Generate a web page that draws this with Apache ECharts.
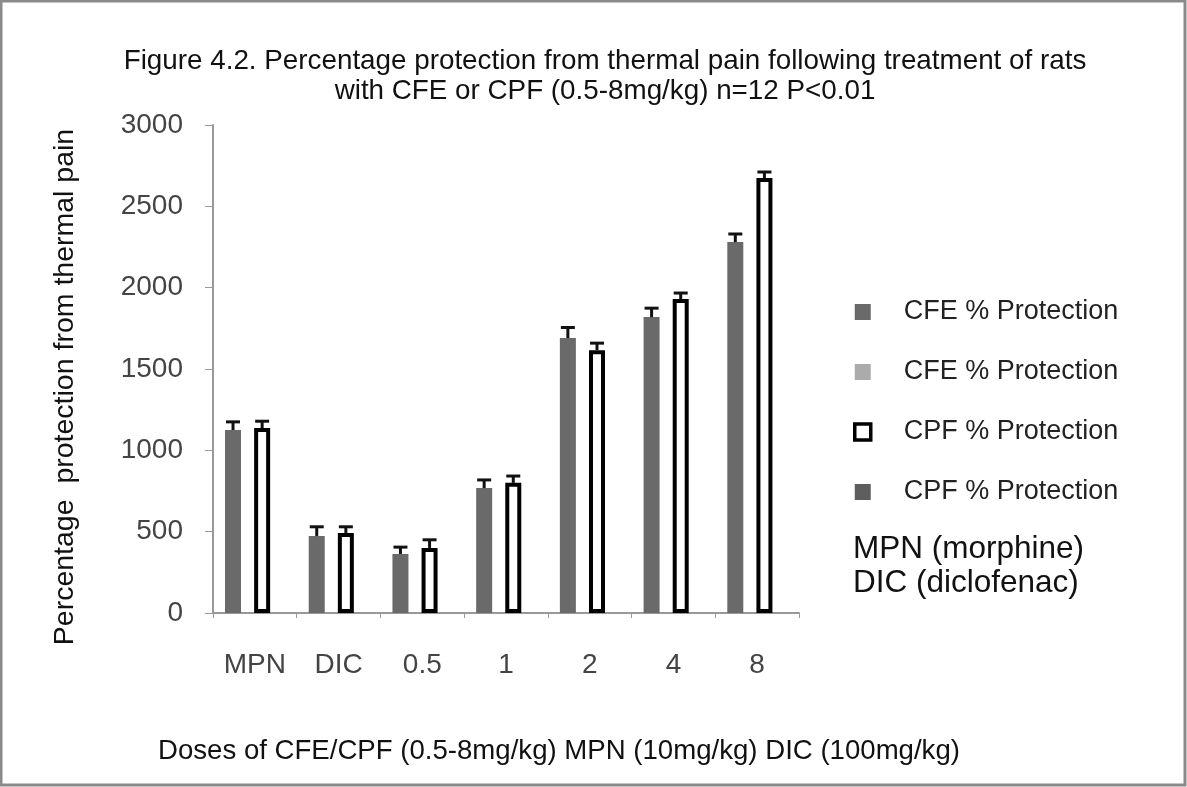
<!DOCTYPE html>
<html>
<head>
<meta charset="utf-8">
<script src="https://cdn.jsdelivr.net/npm/echarts@6/dist/echarts.min.js"></script>
<style>
html,body{margin:0;padding:0;background:#fff;}
#chart{width:1187px;height:787px;}
</style>
</head>
<body>
<div id="chart"></div>
<script>
// ---- data ----
var categories = ['MPN', 'DIC', '0.5', '1', '2', '4', '8'];
var cfeMean = [1125, 473, 363, 768, 1690, 1819, 2280];
var cfeErr  = [50, 57, 42, 50, 65, 55, 50];
var cpfMean = [1137, 492, 400, 800, 1616, 1930, 2674];
var cpfErr  = [42, 38, 50, 42, 43, 37, 37];
var yTicks = [0, 500, 1000, 1500, 2000, 2500, 3000];
var legendNames = ['CFE % Protection', 'CFE % Protection ', 'CPF % Protection', 'CPF % Protection '];

var BAR_W = 16, BAR_GAP = -0.09;
var pitch = BAR_W * (1 + BAR_GAP);
var offCFE = -1.5 * pitch, offCPF = 0.5 * pitch;

function errData(mean, err) {
  return mean.map(function (m, i) { return [i, m, err[i]]; });
}
function errRender(offset) {
  return function (params, api) {
    var i = api.value(0), m = api.value(1), e = api.value(2);
    var p0 = api.coord([i, m]);
    var p1 = api.coord([i, m + e]);
    var x = p0[0] + offset;
    var st = { stroke: '#111', lineWidth: 3 };
    return {
      type: 'group',
      children: [
        { type: 'line', shape: { x1: x, y1: p0[1], x2: x, y2: p1[1] }, style: st },
        { type: 'line', shape: { x1: x - 7, y1: p1[1], x2: x + 7, y2: p1[1] }, style: st }
      ]
    };
  };
}

var chart = echarts.init(document.getElementById('chart'));
chart.setOption({
  animation: false,
  backgroundColor: '#fff',
  title: [{
    text: 'Figure 4.2. Percentage protection from thermal pain following treatment of rats\nwith CFE or CPF (0.5-8mg/kg) n=12 P<0.01',
    left: 600, top: 41, textAlign: 'center',
    textStyle: { fontFamily: 'Liberation Sans', fontSize: 27.8, fontWeight: 'normal', color: '#111', lineHeight: 30 }
  }, {
    text: 'Doses of CFE/CPF (0.5-8mg/kg) MPN (10mg/kg) DIC (100mg/kg)',
    left: 153, top: 732,
    textStyle: { fontFamily: 'Liberation Sans', fontSize: 27.6, fontWeight: 'normal', color: '#111' }
  }],
  graphic: [
    { type: 'rect', shape: { x: 1, y: 1, width: 1184, height: 784 }, style: { fill: 'none', stroke: '#8a8a8a', lineWidth: 3 }, silent: true },
    { type: 'text', left: 853, top: 532, style: { text: 'MPN (morphine)\nDIC (diclofenac)', font: '31.5px "Liberation Sans"', fill: '#111', lineHeight: 34 } },
    { type: 'text', x: 65, y: 387, rotation: Math.PI / 2,
      style: { text: 'Percentage  protection from thermal pain', font: '28.5px "Liberation Sans"', fill: '#111', align: 'center', verticalAlign: 'middle' } }
  ],
  legend: {
    orient: 'vertical', left: 848, top: 293,
    itemWidth: 16, itemHeight: 16, itemGap: 32,
    textStyle: { fontFamily: 'Liberation Sans', fontSize: 27, lineHeight: 28, color: '#222', padding: [0, 0, 0, 28] },
    data: [
      { name: legendNames[0], icon: 'rect' },
      { name: legendNames[1], icon: 'rect' },
      { name: legendNames[2], icon: 'rect', itemStyle: { color: '#fff', borderColor: '#000', borderWidth: 3.5 } },
      { name: legendNames[3], icon: 'rect' }
    ]
  },
  grid: { left: 213, right: 388, top: 125, bottom: 174 },
  xAxis: {
    type: 'category', data: categories,
    axisLine: { lineStyle: { color: '#999', width: 2 } },
    axisTick: { show: true, length: 5, lineStyle: { color: '#999' } },
    axisLabel: { margin: 38, fontFamily: 'Liberation Sans', fontSize: 28, color: '#444' }
  },
  yAxis: {
    type: 'value', min: 0, max: 3000, interval: 500,
    axisLine: { show: true, lineStyle: { color: '#999', width: 2 } },
    axisTick: { show: true, length: 8, lineStyle: { color: '#999' } },
    splitLine: { show: false },
    axisLabel: { margin: 30, fontFamily: 'Liberation Sans', fontSize: 28, color: '#444',
      formatter: function (v) { return yTicks.indexOf(v) >= 0 ? String(v) : ''; } }
  },
  series: [
    { name: legendNames[0], type: 'bar', data: cfeMean, barWidth: BAR_W, barGap: (BAR_GAP * 100) + '%',
      itemStyle: { color: '#6a6a6a' } },
    { name: legendNames[1], type: 'bar', data: [], barWidth: BAR_W, barGap: (BAR_GAP * 100) + '%',
      itemStyle: { color: '#ababab' } },
    { name: legendNames[2], type: 'bar', data: cpfMean, barWidth: BAR_W, barGap: (BAR_GAP * 100) + '%',
      itemStyle: { color: '#fff', borderColor: '#000', borderWidth: 4 } },
    { name: legendNames[3], type: 'bar', data: [], barWidth: BAR_W, barGap: (BAR_GAP * 100) + '%',
      itemStyle: { color: '#5e5e5e' } },
    { type: 'custom', data: errData(cfeMean, cfeErr), renderItem: errRender(offCFE), z: 5, silent: true },
    { type: 'custom', data: errData(cpfMean, cpfErr), renderItem: errRender(offCPF), z: 5, silent: true }
  ]
});
</script>
</body>
</html>
